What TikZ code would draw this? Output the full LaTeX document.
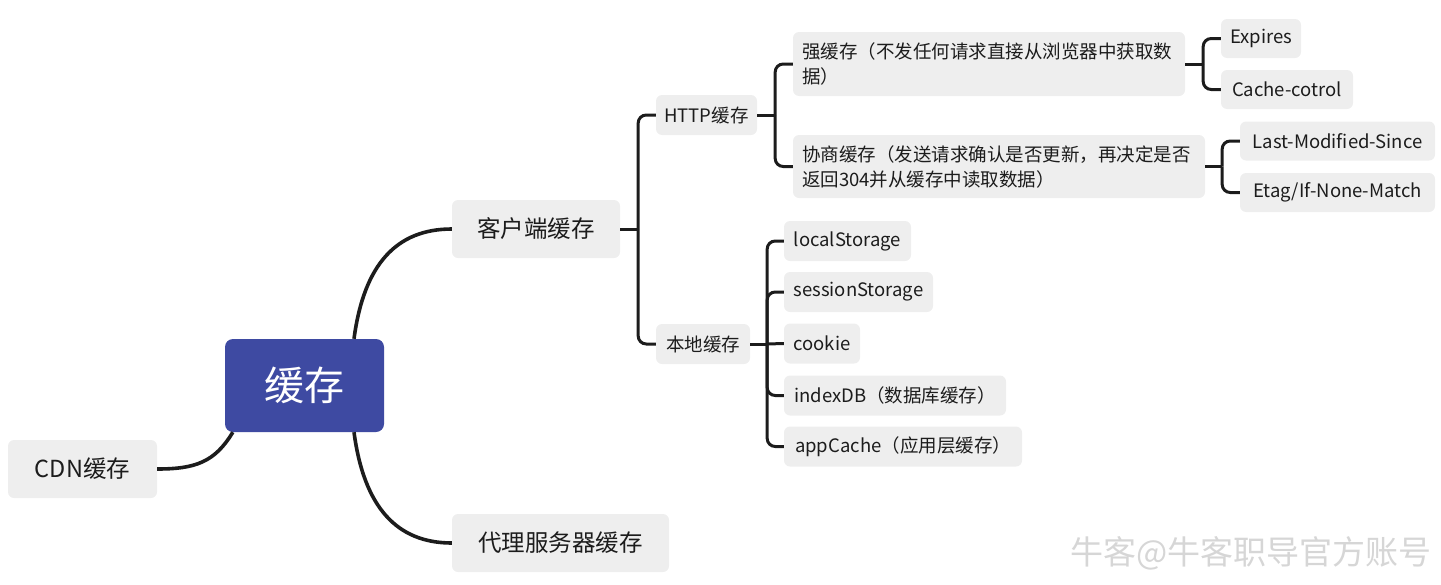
\documentclass[tikz,border=0pt]{standalone}
\usepackage{fontspec}
\setmainfont{Noto Sans CJK SC}
\usetikzlibrary{calc}
\definecolor{rootblue}{HTML}{3E4AA2}
\definecolor{boxgray}{HTML}{EEEEEE}
\definecolor{ink}{HTML}{1C1C1C}
\begin{document}
\begin{tikzpicture}[x=1pt,y=-1pt,
  box/.style={fill=boxgray, rounded corners=6pt, text=ink, inner sep=0pt, align=center},
  rootbox/.style={fill=rootblue, rounded corners=8pt, text=white, inner sep=0pt, font=\fontsize{40}{44}\selectfont},
  lvone/.style={box, font=\fontsize{23.5}{26}\selectfont, minimum height=58pt},
  lvtwo/.style={box, font=\fontsize{18.5}{25}\selectfont, minimum height=40pt},
  lvthree/.style={box, font=\fontsize{18.5}{25}\selectfont, minimum height=39pt},
  twoline/.style={box, font=\fontsize{18.5}{25}\selectfont, align=left},
  link/.style={draw=ink, line width=3pt},
  fork/.style={draw=ink, line width=3pt, rounded corners=8pt},
  rootlink/.style={draw=ink, line width=3.6pt},
  wmark/.style={text=black!16, font=\fontsize{33}{35}\selectfont, inner sep=0pt}
]
\useasboundingbox (0,0) rectangle (1441,584);

% root
\node[rootbox, minimum width=159pt, minimum height=93pt] (root) at (304.5,385.5) {缓存};

% level one
\node[lvone, minimum width=149pt] (cdn) at (82.5,469) {CDN缓存};
\node[lvone, minimum width=168pt] (client) at (536,229) {客户端缓存};
\node[lvone, minimum width=217pt] (proxy) at (560.5,543) {代理服务器缓存};

% level two
\node[lvtwo, minimum width=101pt] (http) at (706.5,115) {HTTP缓存};
\node[lvtwo, minimum width=94pt] (local) at (703,344) {本地缓存};

% level three (HTTP)
\node[twoline, text width=374pt, minimum width=392pt, minimum height=64pt] (strong) at (989,64)
  {强缓存（不发任何请求直接从浏览器中获取数\\据）};
\node[twoline, text width=394pt, minimum width=412pt, minimum height=63pt] (nego) at (999,166.5)
  {协商缓存（发送请求确认是否更新，再决定是否\\返回304并从缓存中读取数据）};

% level four
\node[lvthree, minimum width=80pt] (expires) at (1261,38.5) {Expires};
\node[lvthree, minimum width=132pt] (cachectl) at (1287,89.5) {Cache-cotrol};
\node[lvthree, minimum width=195pt] (lastmod) at (1337.5,141) {Last-Modified-Since};
\node[lvthree, minimum width=195pt] (etag) at (1337.5,192.5) {Etag/If-None-Match};

% level three (local)
\node[lvtwo, minimum width=127pt] (ls) at (847.5,241) {localStorage};
\node[lvtwo, minimum width=149pt] (ss) at (858.5,292) {sessionStorage};
\node[lvtwo, minimum width=76pt] (cookie) at (822,343.5) {cookie};
\node[lvtwo, minimum width=222pt] (idb) at (895,395.5) {indexDB（数据库缓存）};
\node[lvtwo, minimum width=238pt] (app) at (903,446.5) {appCache（应用层缓存）};

% watermark
\node[wmark, anchor=east] (wm) at (1432,553) {牛客@牛客职导官方账号};

% root links
\draw[rootlink] ($(root.north)+(49.5,0)$) .. controls +(10,-75) and +(-55,0) .. (client.west);
\draw[rootlink] ($(root.south)+(49.5,0)$) .. controls +(10,75) and +(-55,0) .. (proxy.west);
\draw[rootlink] ($(root.south west)+(8,0)$) .. controls +(-18,30) and +(38,0) .. (cdn.east);

% forks
\coordinate (tclient) at ($(client.east)+(18,0)$);
\draw[link] (client.east) -- (tclient);
\draw[fork] (tclient) |- (http.west);
\draw[fork] (tclient) |- (local.west);

\coordinate (thttp) at ($(http.east)+(18,0)$);
\draw[link] (http.east) -- (thttp);
\draw[fork] (thttp) |- (strong.west);
\draw[fork] (thttp) |- (nego.west);

\coordinate (tstrong) at ($(strong.east)+(18,0)$);
\draw[link] (strong.east) -- (tstrong);
\draw[fork] (tstrong) |- (expires.west);
\draw[fork] (tstrong) |- (cachectl.west);

\coordinate (tnego) at ($(nego.east)+(17,0)$);
\draw[link] (nego.east) -- (tnego);
\draw[fork] (tnego) |- (lastmod.west);
\draw[fork] (tnego) |- (etag.west);

\coordinate (tlocal) at ($(local.east)+(17,0)$);
\draw[link] (local.east) -- (tlocal);
\draw[fork] (tlocal) |- (ls.west);
\draw[fork] (tlocal) |- (ss.west);
\draw[link] (tlocal) -- (cookie.west);
\draw[fork] (tlocal) |- (idb.west);
\draw[fork] (tlocal) |- (app.west);
\end{tikzpicture}
\end{document}
